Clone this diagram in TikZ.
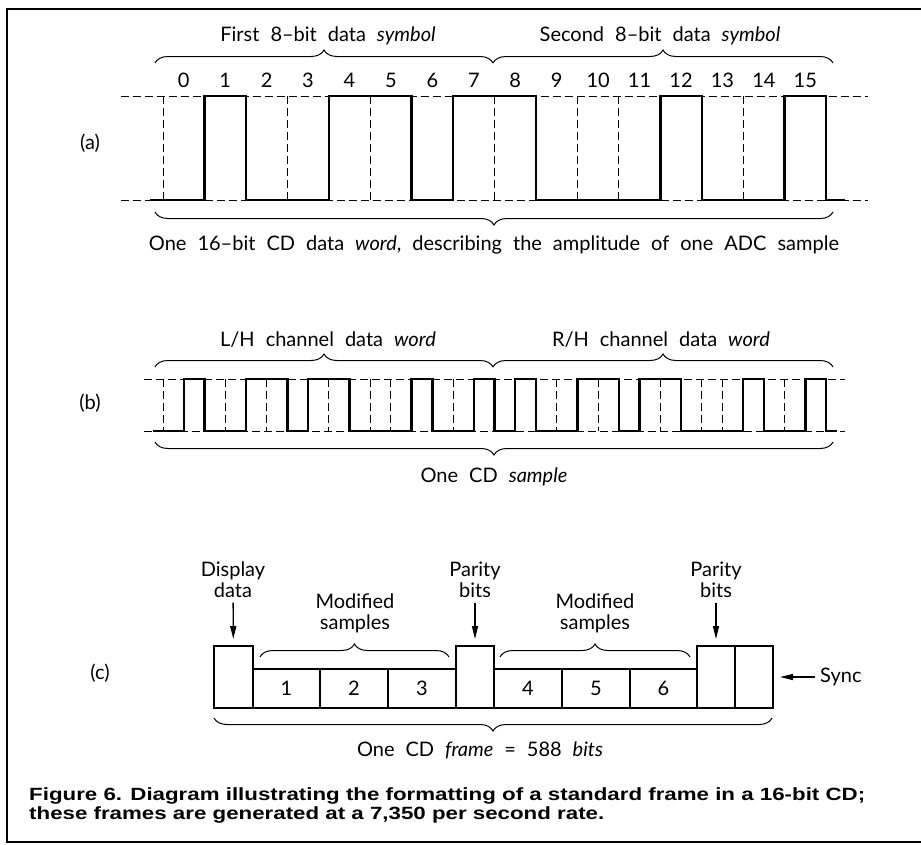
\documentclass[tikz,border=0pt]{standalone}
\usepackage{fontspec}
\setmainfont{Lato}
\newfontfamily\capfont[FakeStretch=1.26]{Liberation Sans}
\usetikzlibrary{decorations.pathreplacing,arrows.meta}
\newcommand\lblfont{\fontsize{20}{21}\selectfont\spaceskip=0.55em plus 0.1em\relax}
\begin{document}
\begin{tikzpicture}[x=1pt,y=-1pt,
  wave/.style={line width=2.4pt, line join=miter},
  guide/.style={line width=0.9pt, dash pattern=on 8pt off 4pt},
  brc/.style={decorate, decoration={brace, amplitude=13pt}, line width=1pt},
  lbl/.style={font=\lblfont, inner sep=0pt, align=center},
  box/.style={draw, line width=2pt, inner sep=0pt, outer sep=0pt},
  arr/.style={line width=1.3pt, -{Triangle[length=13pt,width=6pt]}},
  capt/.style={font=\capfont\bfseries\fontsize{17.7}{20}\selectfont, inner sep=0pt, anchor=base west}
]
\useasboundingbox (0,0) rectangle (921,844);
% frame
\draw[line width=2pt] (921,9) -- (7,9) -- (7,842) -- (921,842);

% ---------------- (a) ----------------
\node[lbl] (la) at (90,143) {(a)};
\node[lbl] (sym1) at (328,36) {First 8–bit data \textit{symbol}};
\node[lbl] (sym2) at (660,36) {Second 8–bit data \textit{symbol}};
\foreach \i in {0,...,15} \node[lbl] (d\i) at ({163+41.44*(\i+0.5)},80) {\i};
\draw[brc] (155,63) -- (493,63);
\draw[brc] (493,63) -- (833,63);
\draw[guide] (121,96) -- (868,96);
\draw[guide] (121,200) -- (868,200);
\foreach \x in {163,287.3,370.2,494.5,577.4,618.8,743.2} \draw[guide] (\x,96) -- (\x,200);
\draw[wave] (150,200) -- (204.4,200) -- (204.4,96) -- (245.9,96) -- (245.9,200) -- (328.8,200) -- (328.8,96) -- (411.6,96) -- (411.6,200) -- (453.1,200) -- (453.1,96) -- (536,96) -- (536,200) -- (660.3,200) -- (660.3,96) -- (701.7,96) -- (701.7,200) -- (784.6,200) -- (784.6,96) -- (826,96) -- (826,200) -- (845,200);
\draw[brc] (833,212) -- (155,212);
\node[lbl] (worda) at (494,245) {One 16–bit CD data \textit{word}, describing the amplitude of one ADC sample};

% ---------------- (b) ----------------
\node[lbl] (lb) at (90,403) {(b)};
\node[lbl] (lh) at (328,340) {L/H channel data \textit{word}};
\node[lbl] (rh) at (661,340) {R/H channel data \textit{word}};
\draw[brc] (155,367) -- (493,367);
\draw[brc] (493,367) -- (833,367);
\draw[guide] (144,379) -- (845,379);
\draw[guide] (144,431) -- (845,431);
\foreach \x in {163,225.2,266.6,328.8,370.2,390.9,453.1,556.7,598.1,660.3,701.7,722.4,784.6} \draw[guide] (\x,379) -- (\x,431);
\draw[wave] (153,431) -- (183.7,431) -- (183.7,379) -- (204.4,379) -- (204.4,431) -- (245.9,431) -- (245.9,379) -- (287.3,379) -- (287.3,431) -- (308,431) -- (308,379) -- (349.5,379) -- (349.5,431) -- (411.6,431) -- (411.6,379) -- (432.4,379) -- (432.4,431) -- (473.8,431) -- (473.8,379) -- (494.5,379) -- (494.5,431) -- (515.2,431) -- (515.2,379) -- (536,379) -- (536,431) -- (577.4,431) -- (577.4,379) -- (618.8,379) -- (618.8,431) -- (639.6,431) -- (639.6,379) -- (681,379) -- (681,431) -- (743.2,431) -- (743.2,379) -- (763.9,379) -- (763.9,431) -- (805.3,431) -- (805.3,379) -- (826,379) -- (826,431) -- (837,431);
\draw[brc] (833,442) -- (155,442);
\node[lbl] (sampleb) at (494,477) {One CD \textit{sample}};

% ---------------- (c) ----------------
\node[lbl] (lc) at (100,673) {(c)};
\node[box, minimum width=39pt, minimum height=62pt] (dbox) at (233.5,677) {};
\node[box, lbl, minimum width=67pt, minimum height=39pt] (s1) at (286.5,688.5) {1};
\node[box, lbl, minimum width=68pt, minimum height=39pt] (s2) at (354,688.5) {2};
\node[box, lbl, minimum width=68pt, minimum height=39pt] (s3) at (422,688.5) {3};
\node[box, minimum width=38pt, minimum height=62pt] (p1) at (475,677) {};
\node[box, lbl, minimum width=68pt, minimum height=39pt] (s4) at (528,688.5) {4};
\node[box, lbl, minimum width=68pt, minimum height=39pt] (s5) at (596,688.5) {5};
\node[box, lbl, minimum width=67pt, minimum height=39pt] (s6) at (663.5,688.5) {6};
\node[box, minimum width=38pt, minimum height=62pt] (p2) at (716,677) {};
\node[box, minimum width=38pt, minimum height=62pt] (sy) at (754,677) {};

\node[lbl] (disp) at (233,579.5) {Display\\data};
\node[lbl] (par1) at (475,579.5) {Parity\\bits};
\node[lbl] (par2) at (716,579.5) {Parity\\bits};
\node[lbl] (mod1) at (355,613.5) {Modified\\samples};
\node[lbl] (mod2) at (595,613.5) {Modified\\samples};
\draw[brc] (260,657) -- (449,657);
\draw[brc] (500,657) -- (690,657);
\draw[arr, shorten <=5pt, shorten >=7pt] (disp) -- (dbox);
\draw[arr, shorten <=5pt, shorten >=7pt] (par1) -- (p1);
\draw[arr, shorten <=5pt, shorten >=7pt] (par2) -- (p2);
\node[lbl, anchor=west] (sync) at (820,677) {Sync};
\draw[arr, shorten <=5pt, shorten >=7pt] (sync) -- (sy);
\draw[brc] (772,718) -- (214,718);
\node[lbl] (framec) at (480,750) {One CD \textit{frame} = 588 \textit{bits}};

% caption
\node[capt] (cap1) at (29,800) {Figure 6. Diagram illustrating the formatting of a standard frame in a 16-bit CD;};
\node[capt] (cap2) at (29,819) {these frames are generated at a 7,350 per second rate.};
\end{tikzpicture}
\end{document}
